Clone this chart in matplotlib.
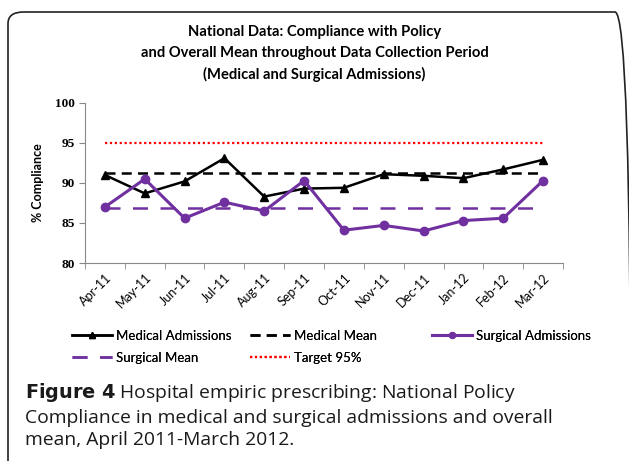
# National policy compliance chart
import numpy as np
import matplotlib.pyplot as plt
from matplotlib.patches import FancyBboxPatch
from matplotlib.ticker import FixedLocator

# Data
months = ['Apr-11', 'May-11', 'Jun-11', 'Jul-11', 'Aug-11', 'Sep-11',
          'Oct-11', 'Nov-11', 'Dec-11', 'Jan-12', 'Feb-12', 'Mar-12']
medical = [91.0, 88.7, 90.2, 93.1, 88.3, 89.3, 89.4, 91.1, 90.9, 90.6, 91.7, 92.9]
surgical = [87.0, 90.5, 85.6, 87.6, 86.5, 90.3, 84.1, 84.7, 84.0, 85.3, 85.6, 90.3]
medical_mean = 91.2
surgical_mean = 86.9
target = 95

purple = '#7030A0'
x = np.arange(len(months))
W, H = 629, 461

fig = plt.figure(figsize=(W / 100, H / 100), dpi=100)

# rounded frame around the chart
frame = FancyBboxPatch((8 / W, -0.05), 0.99, (H - 12) / H + 0.05,
                       boxstyle='round,pad=0,rounding_size=0.025',
                       transform=fig.transFigure, fill=False,
                       edgecolor='#222222', linewidth=1.2, clip_on=False)
fig.patches.append(frame)

ax = fig.add_axes([85 / W, (H - 263) / H, 478 / W, 160 / H])

l1, = ax.plot(x, medical, color='black', lw=1.8, marker='^', ms=6,
              label='Medical Admissions')
l2, = ax.plot(x, [medical_mean] * len(x), color='black', lw=1.8,
              ls=(0, (4, 2.5)), label='Medical Mean')
l3, = ax.plot(x, surgical, color=purple, lw=2.2, marker='o', ms=6,
              label='Surgical Admissions')
l4, = ax.plot(x, [surgical_mean] * len(x), color=purple, lw=1.8,
              ls=(0, (6, 5)), label='Surgical Mean')
l5, = ax.plot(x, [target] * len(x), color='#FF0000', lw=1.6,
              ls=(0, (1, 1.2)), label='Target 95%')

ax.set_xlim(-0.5, len(months) - 0.5)
ax.set_ylim(80, 100)
ax.set_yticks([80, 85, 90, 95, 100])
ax.set_yticklabels(['80', '85', '90', '95', '100'],
                   fontfamily='Liberation Serif', fontweight='bold', fontsize=9.5)
ax.set_xticks(x)
ax.set_xticklabels(months, rotation=45, ha='right', rotation_mode='anchor',
                   fontfamily='Lato', fontsize=9)
ax.tick_params(axis='x', which='major', length=0, pad=6)
ax.xaxis.set_minor_locator(FixedLocator(np.arange(-0.5, len(months), 1)))
ax.tick_params(axis='x', which='minor', length=4, color='#888888')
ax.tick_params(axis='y', length=4, color='#888888', pad=3)
for s in ['top', 'right']:
    ax.spines[s].set_visible(False)
for s in ['left', 'bottom']:
    ax.spines[s].set_color('#888888')

ax.set_ylabel('% Compliance', fontfamily='Lato', fontweight='bold', fontsize=9,
              labelpad=8)

fig.text(0.5, 1 - 25 / H, 'National Data: Compliance with Policy\n'
         'and Overall Mean throughout Data Collection Period\n'
         '(Medical and Surgical Admissions)',
         ha='center', va='top', fontfamily='Lato', fontweight='bold',
         fontsize=10.6, linespacing=1.6)

# legend: three columns placed separately
leg_kw = dict(loc='upper left', frameon=False, prop={'family': 'Lato', 'size': 9.5},
              handlelength=3.0, handletextpad=0.3, labelspacing=0.75,
              borderaxespad=0, borderpad=0, markerscale=0.7)
columns = [([l1, l4], ['Medical Admissions', 'Surgical Mean'], 72),
           ([l2, l5], ['Medical Mean', 'Target 95%'], 250),
           ([l3], ['Surgical Admissions'], 432)]
for handles, labels, x0 in columns:
    lg = fig.legend(handles, labels, bbox_to_anchor=(x0 / W, 1 - 330 / H), **leg_kw)
    fig.add_artist(lg)

fig.text(25 / W, 1 - 381 / H, r'$\bf{Figure\ 4}$' + ' Hospital empiric prescribing: National Policy\n'
         'Compliance in medical and surgical admissions and overall\n'
         'mean, April 2011-March 2012.',
         ha='left', va='top', fontfamily='Open Sans', fontsize=13.9,
         linespacing=1.33, color='#1a1a1a')

plt.savefig('out.png', dpi=100)
